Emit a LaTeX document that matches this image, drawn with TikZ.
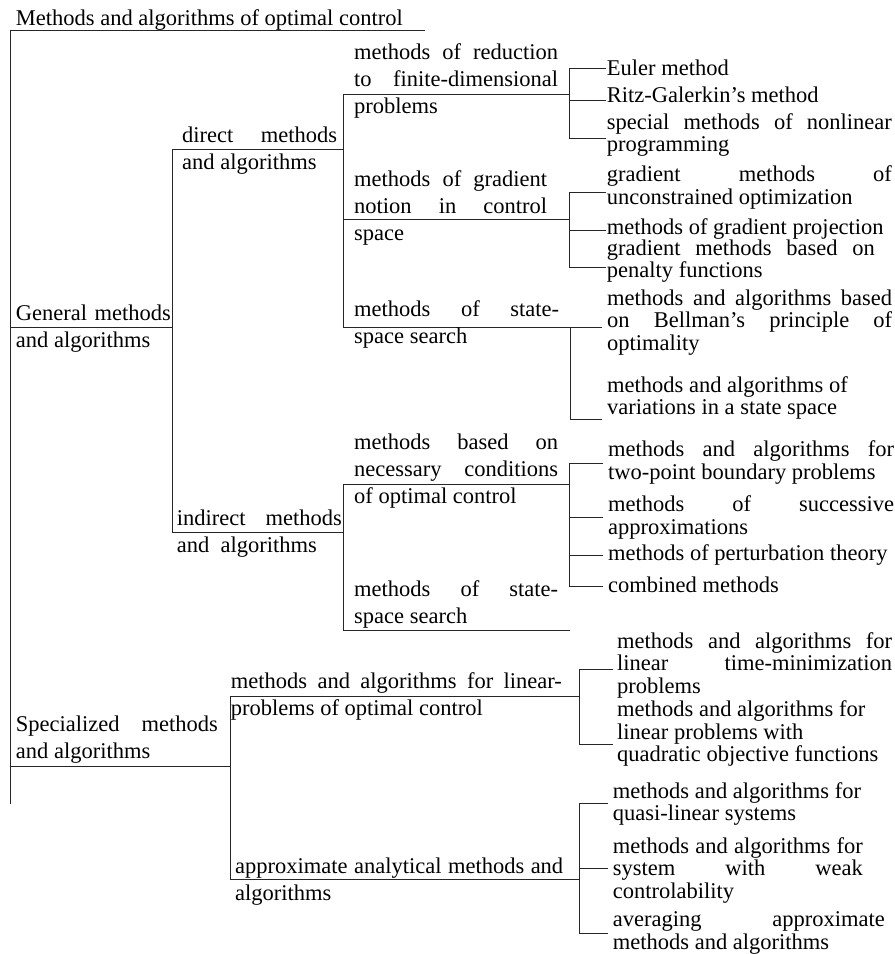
\documentclass[tikz,border=0pt]{standalone}
\usepackage{fontspec}
\setmainfont{Liberation Serif}
\begin{document}
\begin{tikzpicture}[x=1pt,y=-1pt,
    lbl/.style={anchor=base west,inner sep=0pt,align=justify,
      font=\fontsize{22.5}{27}\selectfont},
    leaf/.style={lbl,font=\fontsize{22.5}{22.6}\selectfont},
    link/.style={line width=1pt,line cap=rect,draw=black!85}]
  \useasboundingbox (0,0) rectangle (895,954);
  \def \Points {
    t0/10/30, t1/424/30, tb/10/803,
    g0/10/327, g1/172/327, p0/10/766, p1/230/766,
    d0/172/149, d1/343/149, i0/172/532, i1/343/532,
    r0/343/94, r1/569/94, n0/343/219, n1/569/219, s0/343/327, s1/570/327,
    c0/343/484, c1/569/484, q0/343/630, q1/569/630,
    l0/230/696, l1/579/696, a0/230/879, a1/579/879,
    ra/569/68, rb/569/100, rc/569/138, re1/605/68, re2/605/100, re3/605/138,
    na/569/192, nb/569/230, nc/569/267, ne1/605/192, ne2/605/230, ne3/605/267,
    sb/570/419, se1/601/327, se2/601/419,
    ca/569/463, cb/569/517, cc/569/555, cd/569/586,
    ce1/602/463, ce2/602/517, ce3/602/555, ce4/602/586,
    la/579/669, lb/579/744, le1/612/669, le2/612/744,
    aa/579/803, ab/579/868, ac/579/933, ae1/607/803, ae2/607/868, ae3/607/933}
  \def \Edges {
    t0/tb, t0/t1, g0/g1, p0/p1, d0/i0, d0/d1, i0/i1,
    r0/s0, r0/r1, n0/n1, s0/s1, c0/q0, c0/c1, q0/q1, l0/a0, l0/l1, a0/a1,
    ra/rc, ra/re1, rb/re2, rc/re3, na/nc, na/ne1, nb/ne2, nc/ne3,
    s1/sb, s1/se1, sb/se2, ca/cd, ca/ce1, cb/ce2, cc/ce3, cd/ce4,
    la/lb, la/le1, lb/le2, aa/ac, aa/ae1, ab/ae2, ac/ae3}
  \def \Labels {
    title/15.7/25/420/Methods and algorithms of optimal control,
    gen/15.7/320.7/155/General methods\linebreak and algorithms,
    spec/15.7/731.7/202/Specialized methods\linebreak and algorithms,
    dir/182/142/155/direct methods\linebreak and algorithms,
    ind/176.7/525/165/indirect methods\linebreak and~ algorithms,
    red/354/59/204/methods of reduction\linebreak to finite-dimensional\linebreak problems,
    grad/354/186.7/193/methods of gradient\linebreak notion in control\linebreak space,
    ssd/354/316/205/methods of state-\linebreak space search,
    nec/354/449/204/methods based on\linebreak necessary conditions\linebreak of optimal control,
    ssi/354/596.7/204/methods of state-\linebreak space search,
    lin/230.7/688/331/methods and algorithms for linear-\linebreak problems of optimal control,
    apx/235/873.3/328/approximate analytical methods and\linebreak algorithms}
  \def \Leaves {
    eul/606.7/75/285/Euler method,
    ritz/606.7/102/285/Ritz-Galerkin's method,
    spm/606.7/129/285/special methods of nonlinear\linebreak programming,
    gum/606.7/181.7/285/gradient methods of\linebreak unconstrained optimization,
    gpr/606.7/234/285/methods of gradient projection,
    gpf/606.7/255/268/gradient methods based on\linebreak penalty functions,
    bel/607/305/285/methods and algorithms based\linebreak on Bellman's principle of\linebreak optimality,
    var/607/392/285/methods and algorithms of\newline variations in a state space,
    tpb/608/456.7/286/methods and algorithms for\linebreak two-point boundary problems,
    suc/608/511.7/286/methods of successive\linebreak approximations,
    per/608/560/286/methods of perturbation theory,
    cmb/608/592/286/combined methods,
    ltm/617/648/275/methods and algorithms for\linebreak linear time-minimization\linebreak problems,
    lqo/617/716.7/275/methods and algorithms for\newline linear problems with\newline quadratic objective functions,
    qls/612.7/798/250/methods and algorithms for\newline quasi-linear systems,
    swc/612.7/853/250/methods and algorithms for\linebreak system with weak\linebreak controlability,
    avg/612.7/926.7/272/averaging approximate\linebreak methods and algorithms}

  \foreach \id / \x / \y in \Points {
    \coordinate (\id) at (\x, \y);
  }
  \foreach \a / \b in \Edges {
    \draw[link] (\a) -- (\b);
  }
  \foreach \id / \x / \y / \w / \txt in \Labels {
    \node[lbl,text width=\w pt] (\id) at (\x, \y) {\txt};
  }
  \foreach \id / \x / \y / \w / \txt in \Leaves {
    \node[leaf,text width=\w pt] (\id) at (\x, \y) {\txt};
  }
\end{tikzpicture}
\end{document}
